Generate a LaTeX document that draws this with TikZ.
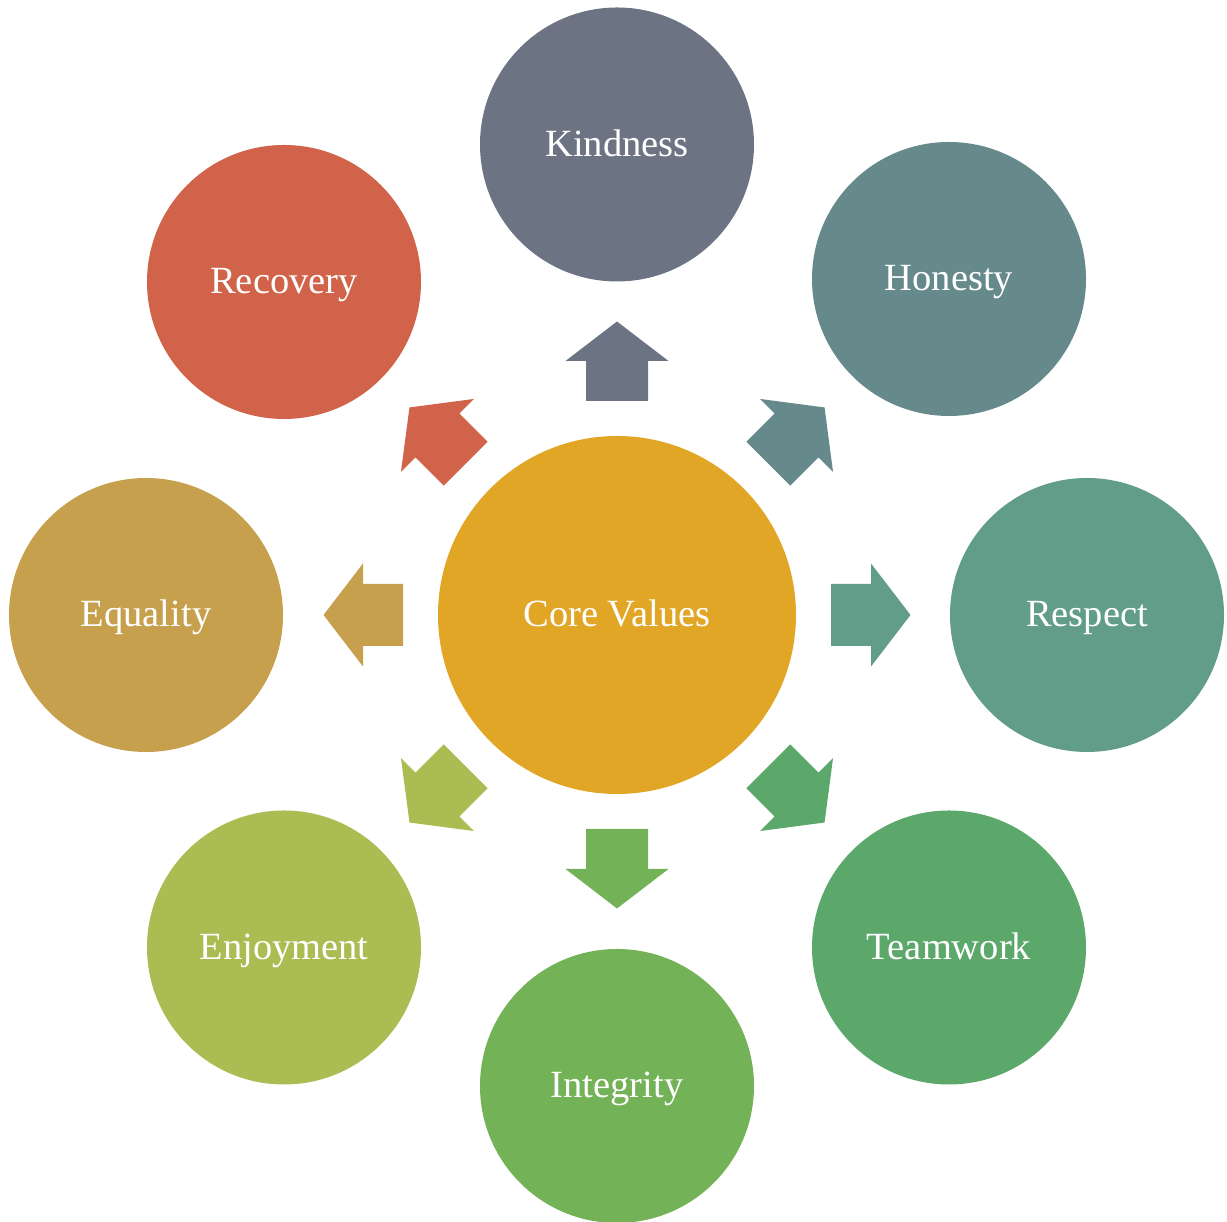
\documentclass[tikz,border=0pt]{standalone}
\usepackage{fontspec}
\setmainfont{Liberation Serif}
\definecolor{ccore}{HTML}{E2A626}
\definecolor{ckind}{HTML}{6C7484}
\definecolor{chon}{HTML}{66898C}
\definecolor{cres}{HTML}{619D89}
\definecolor{cteam}{HTML}{5BA86A}
\definecolor{cint}{HTML}{73B257}
\definecolor{cenj}{HTML}{AABC52}
\definecolor{cequ}{HTML}{C7A04E}
\definecolor{crec}{HTML}{D06349}
\begin{document}
\begin{tikzpicture}[x=1pt,y=1pt,
  bub/.style={circle,minimum size=274pt,inner sep=0pt,text=white,
    text height=30pt,text depth=6pt,
    font=\fontsize{38.5}{46}\selectfont}]
\useasboundingbox (0,0) rectangle (1227,1222);
\node[bub,fill=ccore,minimum size=358pt] (core) at (617,607) {Core Values};
\node[bub,fill=ckind] (kind) at (617,1077.5) {Kindness};
\node[bub,fill=chon]  (hon)  at (949,943) {Honesty};
\node[bub,fill=cres]  (res)  at (1087,607) {Respect};
\node[bub,fill=cteam] (team) at (949,274.5) {Teamwork};
\node[bub,fill=cint]  (int)  at (617,136) {Integrity};
\node[bub,fill=cenj]  (enj)  at (284,274.5) {Enjoyment};
\node[bub,fill=cequ]  (equ)  at (146,607) {Equality};
\node[bub,fill=crec]  (rec)  at (284,940) {Recovery};
\foreach \a/\c in {90/ckind,45/chon,0/cres,-45/cteam,-90/cint,-135/cenj,180/cequ,135/crec}{
  \fill[\c,shift={(core.center)},rotate=\a]
    (214,-31) -- (254,-31) -- (254,-51.5) -- (293.5,0) -- (254,51.5) -- (254,31) -- (214,31) -- cycle;
}
\end{tikzpicture}
\end{document}
